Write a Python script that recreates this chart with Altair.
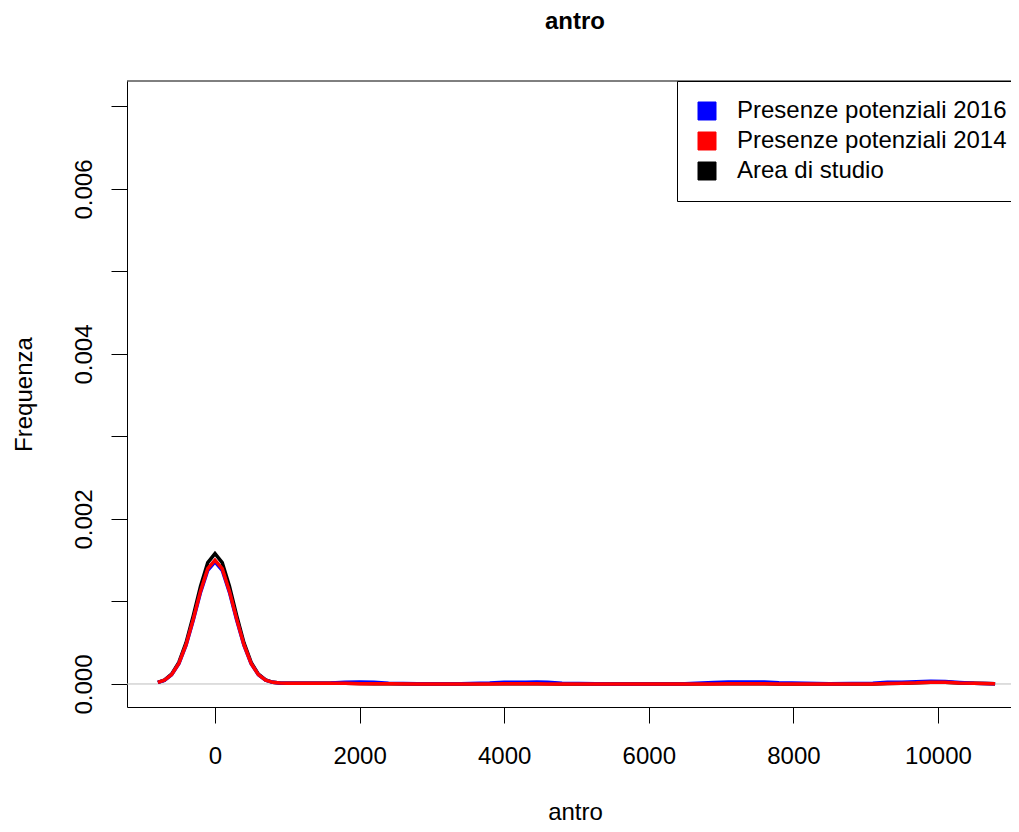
import altair as alt
import pandas as pd

# ---- data (kernel density estimates) ----
x_vals = [-790, -700, -600, -500, -400, -300, -200, -100, 0, 100, 200, 300, 400, 500,
          600, 700, 800, 900, 1000, 1300, 1600, 1800, 2000, 2200, 2400, 2800, 3400,
          3800, 4000, 4150, 4300, 4450, 4600, 4800, 5500, 6500, 6900, 7100, 7350, 7600,
          7800, 8500, 9100, 9300, 9500, 9700, 9900, 10100, 10300, 10500, 10790]

dens_2016 = [0.00002, 0.000044, 0.000112, 0.000246, 0.000469, 0.000776, 0.00111, 0.001378,
             0.00148, 0.001378, 0.00111, 0.000776, 0.000469, 0.000246, 0.000112, 0.000046,
             0.00002, 0.000012, 0.00001, 0.00001, 0.000012, 0.00002, 0.000025, 0.00002,
             0.000008, 0.000002, 0.000002, 0.000012, 0.000022, 0.00002, 0.000022, 0.000024,
             0.00002, 0.000008, 0.000001, 0.000003, 0.000018, 0.000024, 0.000025, 0.000024,
             0.000015, 0.000002, 0.000008, 0.000022, 0.00002, 0.000028, 0.000034, 0.00003,
             0.000018, 0.000008, 0.000002]

dens_2014 = [0.00002, 0.000045, 0.000114, 0.000249, 0.000476, 0.000786, 0.001125, 0.001397,
             0.0015, 0.001397, 0.001125, 0.000786, 0.000476, 0.000249, 0.000114, 0.000047,
             0.00002, 0.000012, 0.00001, 0.00001, 0.00001, 0.00001, 0.000004, 0.000002,
             0.000002, 0.000001, 0.000001, 0.000001, 0.000003, 0.000004, 0.000002, 0.000002,
             0.000001, 0.000001, 0.0, 0.0, 0.000001, 0.000002, 0.000002, 0.000002,
             0.000001, 0.0, 0.000001, 0.000006, 0.00001, 0.000014, 0.000022, 0.00002,
             0.000012, 0.000008, 0.000002]

dens_area = [0.00002, 0.000047, 0.00012, 0.000262, 0.000501, 0.000828, 0.001185, 0.001471,
             0.00158, 0.001471, 0.001185, 0.000828, 0.000501, 0.000262, 0.00012, 0.000049,
             0.00002, 0.000012, 0.00001, 0.00001, 0.00001, 0.00001, 0.000005, 0.000003,
             0.000002, 0.000001, 0.000001, 0.000002, 0.000004, 0.000004, 0.000003, 0.000003,
             0.000002, 0.000001, 0.0, 0.0, 0.000002, 0.000003, 0.000003, 0.000003,
             0.000001, 0.0, 0.000001, 0.000006, 0.00001, 0.000015, 0.000022, 0.00002,
             0.000012, 0.000008, 0.000002]

series_names = ["Presenze potenziali 2016", "Presenze potenziali 2014", "Area di studio"]
series_colors = ["#0000FF", "#FF0000", "#000000"]
x_ticks = [0, 2000, 4000, 6000, 8000, 10000]
y_ticks = [0.0, 0.001, 0.002, 0.003, 0.004, 0.005, 0.006, 0.007]
main_title = "antro"

rows = []
for name, ys in zip(series_names, [dens_2016, dens_2014, dens_area]):
    for xv, yv in zip(x_vals, ys):
        rows.append({"x": xv, "y": yv, "serie": name})
df = pd.DataFrame(rows)

FONT = "Liberation Sans"
W, H = 884, 626

xscale = alt.Scale(domain=[-1217, 11010], nice=False, zero=False)
yscale = alt.Scale(domain=[-0.000279, 0.007309], nice=False, zero=False)
cscale = alt.Scale(domain=series_names, range=series_colors)

xaxis = alt.Axis(values=x_ticks, format="d", title="antro", grid=False,
                 tickSize=16, labelPadding=40, labelBaseline="alphabetic",
                 labelFontSize=24, labelFont=FONT, titleFont=FONT, titleFontSize=24,
                 titleFontWeight="normal", titleX=448, titleY=112,
                 titleBaseline="alphabetic", titleAlign="center",
                 domainColor="black", tickColor="black", labelColor="black",
                 titleColor="black")
yaxis = alt.Axis(values=y_ticks, grid=False, title="Frequenza",
                 labelExpr="round(datum.value*1000) % 2 == 0 ? format(datum.value, '.3f') : ''",
                 tickSize=16, labelPadding=20, labelAngle=270, labelAlign="center",
                 labelBaseline="alphabetic", labelFontSize=24, labelFont=FONT,
                 titleFont=FONT, titleFontSize=24, titleFontWeight="normal",
                 titleX=-96, titleY=313, titleAngle=270, titleBaseline="alphabetic",
                 titleAlign="center", domainColor="black", tickColor="black",
                 labelColor="black", titleColor="black")

legend = alt.Legend(title=None, orient="none", legendX=550, legendY=0, padding=18,
                    strokeColor="black", fillColor="white", symbolType="square",
                    symbolSize=324, symbolStrokeColor="black", symbolStrokeWidth=1,
                    symbolOpacity=1, labelFontSize=24, labelFont=FONT, labelColor="black",
                    labelOffset=18, rowPadding=6, labelLimit=500)

base = alt.Chart(df)

# invisible filled layer providing square legend symbols
legend_layer = base.mark_square(size=0, filled=True).encode(
    x=alt.X("x:Q", scale=xscale, axis=xaxis),
    y=alt.Y("y:Q", scale=yscale, axis=yaxis),
    color=alt.Color("serie:N", scale=cscale, legend=legend),
)

zero_line = alt.Chart(pd.DataFrame({"z": [0.0]})).mark_rule(
    color="#BEBEBE", strokeWidth=1).encode(y=alt.Y("z:Q", scale=yscale))

top_border = alt.Chart(pd.DataFrame({"z": [0]})).mark_rule(
    color="black", strokeWidth=1, clip=False).encode(
    x=alt.value(0), x2=alt.value(W + 20), y=alt.value(0))

title_layer = alt.Chart(pd.DataFrame({"t": [main_title]})).mark_text(
    font=FONT, fontSize=24, fontWeight="bold", color="black",
    align="center", baseline="middle").encode(
    text="t:N", x=alt.value(448), y=alt.value(-59))


def line_layer(name):
    return base.transform_filter(alt.datum.serie == name).mark_line(
        strokeWidth=3.5, clip=True).encode(
        x=alt.X("x:Q", scale=xscale),
        y=alt.Y("y:Q", scale=yscale),
        color=alt.Color("serie:N", scale=cscale, legend=legend),
    )


chart = alt.layer(
    legend_layer,
    zero_line,
    line_layer("Area di studio"),
    line_layer("Presenze potenziali 2016"),
    line_layer("Presenze potenziali 2014"),
    top_border,
    title_layer,
).properties(
    width=W, height=H,
    padding={"left": 119, "top": 73, "right": 0, "bottom": 117},
    autosize=alt.AutoSizeParams(type="none"),
).configure_view(stroke=None).configure_axis(domainWidth=1, tickWidth=1)

chart.save("out.html", embed_options={"renderer": "svg", "actions": False})
